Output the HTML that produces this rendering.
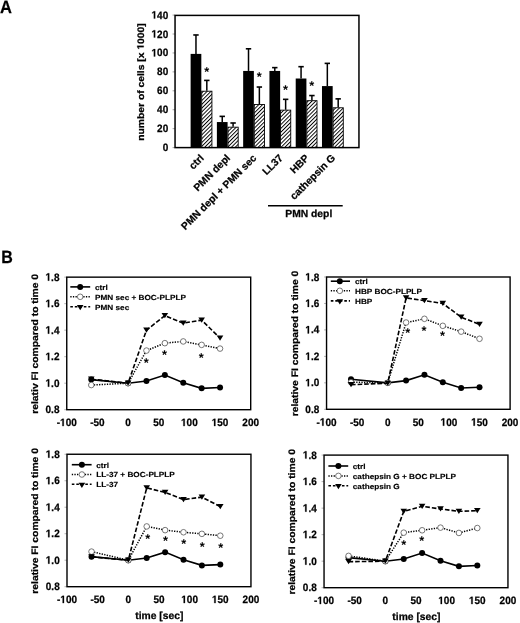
<!DOCTYPE html>
<html><head><meta charset="utf-8"><style>
html,body{margin:0;padding:0;background:#fff;}
body{width:520px;height:623px;overflow:hidden;}
svg{display:block;filter:grayscale(1);}
text{font-family:"Liberation Sans",sans-serif;font-weight:bold;fill:#000;text-rendering:geometricPrecision;stroke:#000;stroke-width:0.25px;}
.h{fill-opacity:0;stroke-opacity:0;}
</style></head><body>
<svg width="520" height="623" viewBox="0 0 520 623">
<defs>
<path id="g49" d="M478 0V1170L140 959V1180L493 1409H759V0Z"/>
<pattern id="hatch" patternUnits="userSpaceOnUse" width="2.7" height="2.7" patternTransform="rotate(45)">
<rect width="2.7" height="2.7" fill="#fff"/>
<rect x="0" y="0" width="0.95" height="2.7" fill="#000"/>
</pattern>
</defs>
<text x="0.00" y="0.00" font-size="17.8" text-anchor="start" transform="translate(0,13.0) scale(0.93,1)">A</text>
<text x="0.00" y="0.00" font-size="17.8" text-anchor="start" transform="translate(1.2,262.9) scale(0.9,1)">B</text>
<text x="0" y="0" font-size="10.7" text-anchor="end" transform="translate(168.20,151.10) scale(0.935,1)">0</text>
<line x1="172.55" y1="147.60" x2="175.05" y2="147.60" stroke="#999" stroke-width="0.9"/>
<text x="0" y="0" font-size="10.7" text-anchor="end" transform="translate(168.20,132.17) scale(0.935,1)">20</text>
<line x1="172.55" y1="128.67" x2="175.05" y2="128.67" stroke="#999" stroke-width="0.9"/>
<text x="0" y="0" font-size="10.7" text-anchor="end" transform="translate(168.20,113.24) scale(0.935,1)">40</text>
<line x1="172.55" y1="109.74" x2="175.05" y2="109.74" stroke="#999" stroke-width="0.9"/>
<text x="0" y="0" font-size="10.7" text-anchor="end" transform="translate(168.20,94.31) scale(0.935,1)">60</text>
<line x1="172.55" y1="90.81" x2="175.05" y2="90.81" stroke="#999" stroke-width="0.9"/>
<text x="0" y="0" font-size="10.7" text-anchor="end" transform="translate(168.20,75.39) scale(0.935,1)">80</text>
<line x1="172.55" y1="71.89" x2="175.05" y2="71.89" stroke="#999" stroke-width="0.9"/>
<text x="0" y="0" font-size="10.7" text-anchor="end" transform="translate(168.20,56.46) scale(0.935,1)"><tspan class="h">1</tspan>00</text>
<g transform="translate(168.20,56.46) scale(0.00489,-0.00522)" fill="#000" stroke="#000" stroke-linejoin="round" stroke-width="48"><use href="#g49" x="-3417"/></g>
<line x1="172.55" y1="52.96" x2="175.05" y2="52.96" stroke="#999" stroke-width="0.9"/>
<text x="0" y="0" font-size="10.7" text-anchor="end" transform="translate(168.20,37.53) scale(0.935,1)"><tspan class="h">1</tspan>20</text>
<g transform="translate(168.20,37.53) scale(0.00489,-0.00522)" fill="#000" stroke="#000" stroke-linejoin="round" stroke-width="48"><use href="#g49" x="-3417"/></g>
<line x1="172.55" y1="34.03" x2="175.05" y2="34.03" stroke="#999" stroke-width="0.9"/>
<text x="0" y="0" font-size="10.7" text-anchor="end" transform="translate(168.20,18.60) scale(0.935,1)"><tspan class="h">1</tspan>40</text>
<g transform="translate(168.20,18.60) scale(0.00489,-0.00522)" fill="#000" stroke="#000" stroke-linejoin="round" stroke-width="48"><use href="#g49" x="-3417"/></g>
<line x1="172.55" y1="15.10" x2="175.05" y2="15.10" stroke="#999" stroke-width="0.9"/>
<g transform="translate(143.7,82.0) rotate(-90) scale(1.1,1)"><text x="0" y="0" font-size="9.4" text-anchor="middle">number of cells [x <tspan class="h">1</tspan>000]</text><g transform="scale(0.00459,-0.00459)" fill="#000" stroke="#000" stroke-linejoin="round" stroke-width="54"><use href="#g49" x="6428"/></g></g>
<line x1="195.97" y1="53.90" x2="195.97" y2="34.97" stroke="#000" stroke-width="1.5"/>
<line x1="193.27" y1="34.97" x2="198.67" y2="34.97" stroke="#000" stroke-width="1.6"/>
<line x1="206.82" y1="90.81" x2="206.82" y2="80.40" stroke="#000" stroke-width="1.5"/>
<line x1="204.12" y1="80.40" x2="209.52" y2="80.40" stroke="#000" stroke-width="1.6"/>
<rect x="190.62" y="53.90" width="10.7" height="93.70" fill="#000"/>
<rect x="201.72" y="91.21" width="10.2" height="56.39" fill="url(#hatch)" stroke="#000" stroke-width="0.9"/>
<line x1="222.24" y1="122.05" x2="222.24" y2="116.37" stroke="#000" stroke-width="1.5"/>
<line x1="219.54" y1="116.37" x2="224.94" y2="116.37" stroke="#000" stroke-width="1.6"/>
<line x1="233.09" y1="126.78" x2="233.09" y2="122.99" stroke="#000" stroke-width="1.5"/>
<line x1="230.39" y1="122.99" x2="235.79" y2="122.99" stroke="#000" stroke-width="1.6"/>
<rect x="216.89" y="122.05" width="10.7" height="25.55" fill="#000"/>
<rect x="227.99" y="127.18" width="10.2" height="20.42" fill="url(#hatch)" stroke="#000" stroke-width="0.9"/>
<line x1="248.51" y1="70.94" x2="248.51" y2="48.79" stroke="#000" stroke-width="1.5"/>
<line x1="245.81" y1="48.79" x2="251.21" y2="48.79" stroke="#000" stroke-width="1.6"/>
<line x1="259.36" y1="104.06" x2="259.36" y2="87.03" stroke="#000" stroke-width="1.5"/>
<line x1="256.66" y1="87.03" x2="262.06" y2="87.03" stroke="#000" stroke-width="1.6"/>
<rect x="243.16" y="70.94" width="10.7" height="76.66" fill="#000"/>
<rect x="254.26" y="104.46" width="10.2" height="43.14" fill="url(#hatch)" stroke="#000" stroke-width="0.9"/>
<line x1="274.79" y1="70.94" x2="274.79" y2="67.63" stroke="#000" stroke-width="1.5"/>
<line x1="272.09" y1="67.63" x2="277.49" y2="67.63" stroke="#000" stroke-width="1.6"/>
<line x1="285.64" y1="109.74" x2="285.64" y2="99.33" stroke="#000" stroke-width="1.5"/>
<line x1="282.94" y1="99.33" x2="288.34" y2="99.33" stroke="#000" stroke-width="1.6"/>
<rect x="269.44" y="70.94" width="10.7" height="76.66" fill="#000"/>
<rect x="280.54" y="110.14" width="10.2" height="37.46" fill="url(#hatch)" stroke="#000" stroke-width="0.9"/>
<line x1="301.06" y1="78.51" x2="301.06" y2="66.68" stroke="#000" stroke-width="1.5"/>
<line x1="298.36" y1="66.68" x2="303.76" y2="66.68" stroke="#000" stroke-width="1.6"/>
<line x1="311.91" y1="100.28" x2="311.91" y2="95.55" stroke="#000" stroke-width="1.5"/>
<line x1="309.21" y1="95.55" x2="314.61" y2="95.55" stroke="#000" stroke-width="1.6"/>
<rect x="295.71" y="78.51" width="10.7" height="69.09" fill="#000"/>
<rect x="306.81" y="100.68" width="10.2" height="46.92" fill="url(#hatch)" stroke="#000" stroke-width="0.9"/>
<line x1="327.33" y1="86.08" x2="327.33" y2="63.37" stroke="#000" stroke-width="1.5"/>
<line x1="324.63" y1="63.37" x2="330.03" y2="63.37" stroke="#000" stroke-width="1.6"/>
<line x1="338.18" y1="107.38" x2="338.18" y2="98.86" stroke="#000" stroke-width="1.5"/>
<line x1="335.48" y1="98.86" x2="340.88" y2="98.86" stroke="#000" stroke-width="1.6"/>
<rect x="321.98" y="86.08" width="10.7" height="61.52" fill="#000"/>
<rect x="333.08" y="107.78" width="10.2" height="39.82" fill="url(#hatch)" stroke="#000" stroke-width="0.9"/>
<text x="206.70" y="75.83" font-size="12.8" text-anchor="middle" style="stroke:none">*</text>
<text x="259.20" y="81.23" font-size="12.8" text-anchor="middle" style="stroke:none">*</text>
<text x="285.60" y="93.93" font-size="12.8" text-anchor="middle" style="stroke:none">*</text>
<text x="311.80" y="90.13" font-size="12.8" text-anchor="middle" style="stroke:none">*</text>
<rect x="175.05" y="15.4" width="183.90" height="132.20" fill="none" stroke="#000" stroke-width="1.5"/>
<text x="0.00" y="0.00" font-size="10.3" text-anchor="end" transform="translate(204.62,158.6) rotate(-45)">ctrl</text>
<text x="0.00" y="0.00" font-size="10.3" text-anchor="end" transform="translate(230.89,158.6) rotate(-45)">PMN depl</text>
<text x="0.00" y="0.00" font-size="10.3" text-anchor="end" transform="translate(257.16,158.6) rotate(-45)">PMN depl + PMN sec</text>
<text x="0.00" y="0.00" font-size="10.3" text-anchor="end" transform="translate(283.44,158.6) rotate(-45)">LL37</text>
<text x="0.00" y="0.00" font-size="10.3" text-anchor="end" transform="translate(309.71,158.6) rotate(-45)">HBP</text>
<text x="0.00" y="0.00" font-size="10.3" text-anchor="end" transform="translate(335.98,158.6) rotate(-45)">cathepsin G</text>
<line x1="268" y1="205.8" x2="342.7" y2="205.8" stroke="#000" stroke-width="1.5"/>
<text x="308.80" y="216.60" font-size="10.3" text-anchor="middle" >PMN depl</text>
<text x="0" y="0" font-size="10.7" text-anchor="end" transform="translate(59.45,413.20) scale(0.935,1)">0.8</text>
<line x1="64.25" y1="409.70" x2="66.75" y2="409.70" stroke="#aaa" stroke-width="0.9"/>
<text x="0" y="0" font-size="10.7" text-anchor="end" transform="translate(59.45,386.69) scale(0.935,1)"><tspan class="h">1</tspan>.0</text>
<g transform="translate(59.45,386.69) scale(0.00489,-0.00522)" fill="#000" stroke="#000" stroke-linejoin="round" stroke-width="48"><use href="#g49" x="-2847"/></g>
<line x1="64.25" y1="383.19" x2="66.75" y2="383.19" stroke="#aaa" stroke-width="0.9"/>
<text x="0" y="0" font-size="10.7" text-anchor="end" transform="translate(59.45,360.18) scale(0.935,1)"><tspan class="h">1</tspan>.2</text>
<g transform="translate(59.45,360.18) scale(0.00489,-0.00522)" fill="#000" stroke="#000" stroke-linejoin="round" stroke-width="48"><use href="#g49" x="-2847"/></g>
<line x1="64.25" y1="356.68" x2="66.75" y2="356.68" stroke="#aaa" stroke-width="0.9"/>
<text x="0" y="0" font-size="10.7" text-anchor="end" transform="translate(59.45,333.67) scale(0.935,1)"><tspan class="h">1</tspan>.4</text>
<g transform="translate(59.45,333.67) scale(0.00489,-0.00522)" fill="#000" stroke="#000" stroke-linejoin="round" stroke-width="48"><use href="#g49" x="-2847"/></g>
<line x1="64.25" y1="330.17" x2="66.75" y2="330.17" stroke="#aaa" stroke-width="0.9"/>
<text x="0" y="0" font-size="10.7" text-anchor="end" transform="translate(59.45,307.16) scale(0.935,1)"><tspan class="h">1</tspan>.6</text>
<g transform="translate(59.45,307.16) scale(0.00489,-0.00522)" fill="#000" stroke="#000" stroke-linejoin="round" stroke-width="48"><use href="#g49" x="-2847"/></g>
<line x1="64.25" y1="303.66" x2="66.75" y2="303.66" stroke="#aaa" stroke-width="0.9"/>
<text x="0" y="0" font-size="10.7" text-anchor="end" transform="translate(59.45,280.65) scale(0.935,1)"><tspan class="h">1</tspan>.8</text>
<g transform="translate(59.45,280.65) scale(0.00489,-0.00522)" fill="#000" stroke="#000" stroke-linejoin="round" stroke-width="48"><use href="#g49" x="-2847"/></g>
<line x1="64.25" y1="277.15" x2="66.75" y2="277.15" stroke="#aaa" stroke-width="0.9"/>
<text x="0" y="0" font-size="10.7" text-anchor="middle" transform="translate(66.75,426.10) scale(0.935,1)">-<tspan class="h">1</tspan>00</text>
<g transform="translate(66.75,426.10) scale(0.00489,-0.00522)" fill="#000" stroke="#000" stroke-linejoin="round" stroke-width="48"><use href="#g49" x="-1368"/></g>
<text x="0" y="0" font-size="10.7" text-anchor="middle" transform="translate(97.41,426.10) scale(0.935,1)">-50</text>
<text x="0" y="0" font-size="10.7" text-anchor="middle" transform="translate(128.07,426.10) scale(0.935,1)">0</text>
<text x="0" y="0" font-size="10.7" text-anchor="middle" transform="translate(158.72,426.10) scale(0.935,1)">50</text>
<text x="0" y="0" font-size="10.7" text-anchor="middle" transform="translate(189.38,426.10) scale(0.935,1)"><tspan class="h">1</tspan>00</text>
<g transform="translate(189.38,426.10) scale(0.00489,-0.00522)" fill="#000" stroke="#000" stroke-linejoin="round" stroke-width="48"><use href="#g49" x="-1708"/></g>
<text x="0" y="0" font-size="10.7" text-anchor="middle" transform="translate(220.04,426.10) scale(0.935,1)"><tspan class="h">1</tspan>50</text>
<g transform="translate(220.04,426.10) scale(0.00489,-0.00522)" fill="#000" stroke="#000" stroke-linejoin="round" stroke-width="48"><use href="#g49" x="-1708"/></g>
<text x="0" y="0" font-size="10.7" text-anchor="middle" transform="translate(250.70,426.10) scale(0.935,1)">200</text>
<text x="0.00" y="0.00" font-size="9.4" text-anchor="middle" transform="translate(37.85,343.82) rotate(-90) scale(1.1,1)">relativ FI compared to time 0</text>
<polyline points="91.28,379.61 128.07,383.19 146.46,380.94 164.86,375.10 183.25,382.66 201.65,388.36 220.04,387.56" fill="none" stroke="#000" stroke-width="1.6"/>
<circle cx="91.28" cy="379.61" r="3.0" fill="#000"/>
<circle cx="128.07" cy="383.19" r="3.0" fill="#000"/>
<circle cx="146.46" cy="380.94" r="3.0" fill="#000"/>
<circle cx="164.86" cy="375.10" r="3.0" fill="#000"/>
<circle cx="183.25" cy="382.66" r="3.0" fill="#000"/>
<circle cx="201.65" cy="388.36" r="3.0" fill="#000"/>
<circle cx="220.04" cy="387.56" r="3.0" fill="#000"/>
<polyline points="91.28,385.05 128.07,383.19 146.46,350.58 164.86,343.16 183.25,341.44 201.65,344.88 220.04,348.59" fill="none" stroke="#000" stroke-width="1.5" stroke-dasharray="1.3,1.3"/>
<circle cx="91.28" cy="385.05" r="2.8" fill="#fff" stroke="#555" stroke-width="0.8"/>
<circle cx="128.07" cy="383.19" r="2.8" fill="#fff" stroke="#555" stroke-width="0.8"/>
<circle cx="146.46" cy="350.58" r="2.8" fill="#fff" stroke="#555" stroke-width="0.8"/>
<circle cx="164.86" cy="343.16" r="2.8" fill="#fff" stroke="#555" stroke-width="0.8"/>
<circle cx="183.25" cy="341.44" r="2.8" fill="#fff" stroke="#555" stroke-width="0.8"/>
<circle cx="201.65" cy="344.88" r="2.8" fill="#fff" stroke="#555" stroke-width="0.8"/>
<circle cx="220.04" cy="348.59" r="2.8" fill="#fff" stroke="#555" stroke-width="0.8"/>
<polyline points="91.28,379.21 128.07,383.19 146.46,330.17 164.86,315.59 183.25,323.14 201.65,320.10 220.04,338.12" fill="none" stroke="#000" stroke-width="1.6" stroke-dasharray="4.6,2"/>
<path d="M87.98,376.61 L94.58,376.61 L91.28,381.81 Z" fill="#000"/>
<path d="M124.77,380.59 L131.37,380.59 L128.07,385.79 Z" fill="#000"/>
<path d="M143.16,327.57 L149.76,327.57 L146.46,332.77 Z" fill="#000"/>
<path d="M161.56,312.99 L168.16,312.99 L164.86,318.19 Z" fill="#000"/>
<path d="M179.95,320.54 L186.55,320.54 L183.25,325.74 Z" fill="#000"/>
<path d="M198.35,317.50 L204.95,317.50 L201.65,322.70 Z" fill="#000"/>
<path d="M216.74,335.52 L223.34,335.52 L220.04,340.72 Z" fill="#000"/>
<text x="146.25" y="366.53" font-size="12.8" text-anchor="middle" style="stroke:none">*</text>
<text x="164.50" y="358.53" font-size="12.8" text-anchor="middle" style="stroke:none">*</text>
<text x="201.25" y="361.53" font-size="12.8" text-anchor="middle" style="stroke:none">*</text>
<line x1="70.3" y1="286.9" x2="90.2" y2="286.9" stroke="#000" stroke-width="1.6"/>
<circle cx="80.20" cy="286.90" r="3.0" fill="#000"/>
<text x="0.00" y="0.00" font-size="7.4" text-anchor="start" transform="translate(95.0,289.70) scale(1.11,1)" style="stroke-width:0.15px">ctrl</text>
<line x1="70.3" y1="296.8" x2="90.2" y2="296.8" stroke="#000" stroke-width="1.5" stroke-dasharray="1.3,1.3"/>
<circle cx="80.20" cy="296.80" r="2.8" fill="#fff" stroke="#555" stroke-width="0.8"/>
<text x="0.00" y="0.00" font-size="7.4" text-anchor="start" transform="translate(95.0,299.60) scale(1.11,1)" style="stroke-width:0.15px">PMN sec + BOC-PLPLP</text>
<line x1="70.3" y1="306.7" x2="90.2" y2="306.7" stroke="#000" stroke-width="1.6" stroke-dasharray="2.6,1.9"/>
<path d="M76.90,305.10 L83.50,305.10 L80.20,310.30 Z" fill="#000"/>
<text x="0.00" y="0.00" font-size="7.4" text-anchor="start" transform="translate(95.0,309.50) scale(1.11,1)" style="stroke-width:0.15px">PMN sec</text>
<rect x="66.75" y="277.15" width="183.95" height="132.55" fill="none" stroke="#000" stroke-width="1.4"/>
<text x="0" y="0" font-size="10.7" text-anchor="end" transform="translate(319.25,412.80) scale(0.935,1)">0.8</text>
<line x1="324.05" y1="409.30" x2="326.55" y2="409.30" stroke="#aaa" stroke-width="0.9"/>
<text x="0" y="0" font-size="10.7" text-anchor="end" transform="translate(319.25,386.34) scale(0.935,1)"><tspan class="h">1</tspan>.0</text>
<g transform="translate(319.25,386.34) scale(0.00489,-0.00522)" fill="#000" stroke="#000" stroke-linejoin="round" stroke-width="48"><use href="#g49" x="-2847"/></g>
<line x1="324.05" y1="382.84" x2="326.55" y2="382.84" stroke="#aaa" stroke-width="0.9"/>
<text x="0" y="0" font-size="10.7" text-anchor="end" transform="translate(319.25,359.88) scale(0.935,1)"><tspan class="h">1</tspan>.2</text>
<g transform="translate(319.25,359.88) scale(0.00489,-0.00522)" fill="#000" stroke="#000" stroke-linejoin="round" stroke-width="48"><use href="#g49" x="-2847"/></g>
<line x1="324.05" y1="356.38" x2="326.55" y2="356.38" stroke="#aaa" stroke-width="0.9"/>
<text x="0" y="0" font-size="10.7" text-anchor="end" transform="translate(319.25,333.42) scale(0.935,1)"><tspan class="h">1</tspan>.4</text>
<g transform="translate(319.25,333.42) scale(0.00489,-0.00522)" fill="#000" stroke="#000" stroke-linejoin="round" stroke-width="48"><use href="#g49" x="-2847"/></g>
<line x1="324.05" y1="329.92" x2="326.55" y2="329.92" stroke="#aaa" stroke-width="0.9"/>
<text x="0" y="0" font-size="10.7" text-anchor="end" transform="translate(319.25,306.96) scale(0.935,1)"><tspan class="h">1</tspan>.6</text>
<g transform="translate(319.25,306.96) scale(0.00489,-0.00522)" fill="#000" stroke="#000" stroke-linejoin="round" stroke-width="48"><use href="#g49" x="-2847"/></g>
<line x1="324.05" y1="303.46" x2="326.55" y2="303.46" stroke="#aaa" stroke-width="0.9"/>
<text x="0" y="0" font-size="10.7" text-anchor="end" transform="translate(319.25,280.50) scale(0.935,1)"><tspan class="h">1</tspan>.8</text>
<g transform="translate(319.25,280.50) scale(0.00489,-0.00522)" fill="#000" stroke="#000" stroke-linejoin="round" stroke-width="48"><use href="#g49" x="-2847"/></g>
<line x1="324.05" y1="277.00" x2="326.55" y2="277.00" stroke="#aaa" stroke-width="0.9"/>
<text x="0" y="0" font-size="10.7" text-anchor="middle" transform="translate(326.55,425.70) scale(0.935,1)">-<tspan class="h">1</tspan>00</text>
<g transform="translate(326.55,425.70) scale(0.00489,-0.00522)" fill="#000" stroke="#000" stroke-linejoin="round" stroke-width="48"><use href="#g49" x="-1368"/></g>
<text x="0" y="0" font-size="10.7" text-anchor="middle" transform="translate(357.14,425.70) scale(0.935,1)">-50</text>
<text x="0" y="0" font-size="10.7" text-anchor="middle" transform="translate(387.73,425.70) scale(0.935,1)">0</text>
<text x="0" y="0" font-size="10.7" text-anchor="middle" transform="translate(418.33,425.70) scale(0.935,1)">50</text>
<text x="0" y="0" font-size="10.7" text-anchor="middle" transform="translate(448.92,425.70) scale(0.935,1)"><tspan class="h">1</tspan>00</text>
<g transform="translate(448.92,425.70) scale(0.00489,-0.00522)" fill="#000" stroke="#000" stroke-linejoin="round" stroke-width="48"><use href="#g49" x="-1708"/></g>
<text x="0" y="0" font-size="10.7" text-anchor="middle" transform="translate(479.51,425.70) scale(0.935,1)"><tspan class="h">1</tspan>50</text>
<g transform="translate(479.51,425.70) scale(0.00489,-0.00522)" fill="#000" stroke="#000" stroke-linejoin="round" stroke-width="48"><use href="#g49" x="-1708"/></g>
<text x="0" y="0" font-size="10.7" text-anchor="middle" transform="translate(510.10,425.70) scale(0.935,1)">200</text>
<text x="0.00" y="0.00" font-size="9.4" text-anchor="middle" transform="translate(297.65,343.55) rotate(-90) scale(1.1,1)">relative FI compared to time 0</text>
<polyline points="351.02,379.27 387.73,382.84 406.09,380.59 424.44,374.77 442.80,382.31 461.15,388.00 479.51,387.21" fill="none" stroke="#000" stroke-width="1.6"/>
<circle cx="351.02" cy="379.27" r="3.0" fill="#000"/>
<circle cx="387.73" cy="382.84" r="3.0" fill="#000"/>
<circle cx="406.09" cy="380.59" r="3.0" fill="#000"/>
<circle cx="424.44" cy="374.77" r="3.0" fill="#000"/>
<circle cx="442.80" cy="382.31" r="3.0" fill="#000"/>
<circle cx="461.15" cy="388.00" r="3.0" fill="#000"/>
<circle cx="479.51" cy="387.21" r="3.0" fill="#000"/>
<polyline points="351.02,382.18 387.73,382.84 406.09,322.51 424.44,318.81 442.80,325.82 461.15,331.64 479.51,338.78" fill="none" stroke="#000" stroke-width="1.5" stroke-dasharray="1.3,1.3"/>
<circle cx="351.02" cy="382.18" r="2.8" fill="#fff" stroke="#555" stroke-width="0.8"/>
<circle cx="387.73" cy="382.84" r="2.8" fill="#fff" stroke="#555" stroke-width="0.8"/>
<circle cx="406.09" cy="322.51" r="2.8" fill="#fff" stroke="#555" stroke-width="0.8"/>
<circle cx="424.44" cy="318.81" r="2.8" fill="#fff" stroke="#555" stroke-width="0.8"/>
<circle cx="442.80" cy="325.82" r="2.8" fill="#fff" stroke="#555" stroke-width="0.8"/>
<circle cx="461.15" cy="331.64" r="2.8" fill="#fff" stroke="#555" stroke-width="0.8"/>
<circle cx="479.51" cy="338.78" r="2.8" fill="#fff" stroke="#555" stroke-width="0.8"/>
<polyline points="351.02,384.69 387.73,383.24 406.09,297.90 424.44,300.68 442.80,303.46 461.15,317.22 479.51,324.36" fill="none" stroke="#000" stroke-width="1.6" stroke-dasharray="4.6,2"/>
<path d="M347.72,382.09 L354.32,382.09 L351.02,387.29 Z" fill="#000"/>
<path d="M384.43,380.64 L391.03,380.64 L387.73,385.84 Z" fill="#000"/>
<path d="M402.79,295.30 L409.39,295.30 L406.09,300.50 Z" fill="#000"/>
<path d="M421.14,298.08 L427.74,298.08 L424.44,303.28 Z" fill="#000"/>
<path d="M439.50,300.86 L446.10,300.86 L442.80,306.06 Z" fill="#000"/>
<path d="M457.85,314.62 L464.45,314.62 L461.15,319.82 Z" fill="#000"/>
<path d="M476.21,321.76 L482.81,321.76 L479.51,326.96 Z" fill="#000"/>
<text x="407.70" y="337.33" font-size="12.8" text-anchor="middle" style="stroke:none">*</text>
<text x="424.00" y="334.83" font-size="12.8" text-anchor="middle" style="stroke:none">*</text>
<text x="442.50" y="340.33" font-size="12.8" text-anchor="middle" style="stroke:none">*</text>
<line x1="330.8" y1="281.2" x2="350.0" y2="281.2" stroke="#000" stroke-width="1.6"/>
<circle cx="339.80" cy="281.20" r="3.0" fill="#000"/>
<text x="0.00" y="0.00" font-size="7.4" text-anchor="start" transform="translate(355.0,284.00) scale(1.11,1)" style="stroke-width:0.15px">ctrl</text>
<line x1="330.8" y1="290.8" x2="350.0" y2="290.8" stroke="#000" stroke-width="1.5" stroke-dasharray="1.3,1.3"/>
<circle cx="339.80" cy="290.80" r="2.8" fill="#fff" stroke="#555" stroke-width="0.8"/>
<text x="0.00" y="0.00" font-size="7.4" text-anchor="start" transform="translate(355.0,293.60) scale(1.11,1)" style="stroke-width:0.15px">HBP BOC-PLPLP</text>
<line x1="330.8" y1="300.9" x2="350.0" y2="300.9" stroke="#000" stroke-width="1.6" stroke-dasharray="2.6,1.9"/>
<path d="M336.50,299.30 L343.10,299.30 L339.80,304.50 Z" fill="#000"/>
<text x="0.00" y="0.00" font-size="7.4" text-anchor="start" transform="translate(355.0,303.70) scale(1.11,1)" style="stroke-width:0.15px">HBP</text>
<rect x="326.55" y="277.0" width="183.55" height="132.30" fill="none" stroke="#000" stroke-width="1.4"/>
<text x="0" y="0" font-size="10.7" text-anchor="end" transform="translate(59.70,590.20) scale(0.935,1)">0.8</text>
<line x1="64.50" y1="586.70" x2="67.00" y2="586.70" stroke="#aaa" stroke-width="0.9"/>
<text x="0" y="0" font-size="10.7" text-anchor="end" transform="translate(59.70,563.71) scale(0.935,1)"><tspan class="h">1</tspan>.0</text>
<g transform="translate(59.70,563.71) scale(0.00489,-0.00522)" fill="#000" stroke="#000" stroke-linejoin="round" stroke-width="48"><use href="#g49" x="-2847"/></g>
<line x1="64.50" y1="560.21" x2="67.00" y2="560.21" stroke="#aaa" stroke-width="0.9"/>
<text x="0" y="0" font-size="10.7" text-anchor="end" transform="translate(59.70,537.22) scale(0.935,1)"><tspan class="h">1</tspan>.2</text>
<g transform="translate(59.70,537.22) scale(0.00489,-0.00522)" fill="#000" stroke="#000" stroke-linejoin="round" stroke-width="48"><use href="#g49" x="-2847"/></g>
<line x1="64.50" y1="533.72" x2="67.00" y2="533.72" stroke="#aaa" stroke-width="0.9"/>
<text x="0" y="0" font-size="10.7" text-anchor="end" transform="translate(59.70,510.73) scale(0.935,1)"><tspan class="h">1</tspan>.4</text>
<g transform="translate(59.70,510.73) scale(0.00489,-0.00522)" fill="#000" stroke="#000" stroke-linejoin="round" stroke-width="48"><use href="#g49" x="-2847"/></g>
<line x1="64.50" y1="507.23" x2="67.00" y2="507.23" stroke="#aaa" stroke-width="0.9"/>
<text x="0" y="0" font-size="10.7" text-anchor="end" transform="translate(59.70,484.24) scale(0.935,1)"><tspan class="h">1</tspan>.6</text>
<g transform="translate(59.70,484.24) scale(0.00489,-0.00522)" fill="#000" stroke="#000" stroke-linejoin="round" stroke-width="48"><use href="#g49" x="-2847"/></g>
<line x1="64.50" y1="480.74" x2="67.00" y2="480.74" stroke="#aaa" stroke-width="0.9"/>
<text x="0" y="0" font-size="10.7" text-anchor="end" transform="translate(59.70,457.75) scale(0.935,1)"><tspan class="h">1</tspan>.8</text>
<g transform="translate(59.70,457.75) scale(0.00489,-0.00522)" fill="#000" stroke="#000" stroke-linejoin="round" stroke-width="48"><use href="#g49" x="-2847"/></g>
<line x1="64.50" y1="454.25" x2="67.00" y2="454.25" stroke="#aaa" stroke-width="0.9"/>
<text x="0" y="0" font-size="10.7" text-anchor="middle" transform="translate(67.00,603.10) scale(0.935,1)">-<tspan class="h">1</tspan>00</text>
<g transform="translate(67.00,603.10) scale(0.00489,-0.00522)" fill="#000" stroke="#000" stroke-linejoin="round" stroke-width="48"><use href="#g49" x="-1368"/></g>
<text x="0" y="0" font-size="10.7" text-anchor="middle" transform="translate(97.66,603.10) scale(0.935,1)">-50</text>
<text x="0" y="0" font-size="10.7" text-anchor="middle" transform="translate(128.32,603.10) scale(0.935,1)">0</text>
<text x="0" y="0" font-size="10.7" text-anchor="middle" transform="translate(158.97,603.10) scale(0.935,1)">50</text>
<text x="0" y="0" font-size="10.7" text-anchor="middle" transform="translate(189.63,603.10) scale(0.935,1)"><tspan class="h">1</tspan>00</text>
<g transform="translate(189.63,603.10) scale(0.00489,-0.00522)" fill="#000" stroke="#000" stroke-linejoin="round" stroke-width="48"><use href="#g49" x="-1708"/></g>
<text x="0" y="0" font-size="10.7" text-anchor="middle" transform="translate(220.29,603.10) scale(0.935,1)"><tspan class="h">1</tspan>50</text>
<g transform="translate(220.29,603.10) scale(0.00489,-0.00522)" fill="#000" stroke="#000" stroke-linejoin="round" stroke-width="48"><use href="#g49" x="-1708"/></g>
<text x="0" y="0" font-size="10.7" text-anchor="middle" transform="translate(250.95,603.10) scale(0.935,1)">200</text>
<text x="0.00" y="0.00" font-size="9.4" text-anchor="middle" transform="translate(38.10,520.88) rotate(-90) scale(1.1,1)">relative FI compared to time 0</text>
<text x="159.38" y="619.30" font-size="10.3" text-anchor="middle" >time [sec]</text>
<polyline points="91.53,556.63 128.32,560.21 146.71,557.96 165.11,552.13 183.50,559.68 201.90,565.38 220.29,564.58" fill="none" stroke="#000" stroke-width="1.6"/>
<circle cx="91.53" cy="556.63" r="3.0" fill="#000"/>
<circle cx="128.32" cy="560.21" r="3.0" fill="#000"/>
<circle cx="146.71" cy="557.96" r="3.0" fill="#000"/>
<circle cx="165.11" cy="552.13" r="3.0" fill="#000"/>
<circle cx="183.50" cy="559.68" r="3.0" fill="#000"/>
<circle cx="201.90" cy="565.38" r="3.0" fill="#000"/>
<circle cx="220.29" cy="564.58" r="3.0" fill="#000"/>
<polyline points="91.53,551.60 128.32,560.21 146.71,526.44 165.11,530.14 183.50,532.26 201.90,533.85 220.29,535.71" fill="none" stroke="#000" stroke-width="1.5" stroke-dasharray="1.3,1.3"/>
<circle cx="91.53" cy="551.60" r="2.8" fill="#fff" stroke="#555" stroke-width="0.8"/>
<circle cx="128.32" cy="560.21" r="2.8" fill="#fff" stroke="#555" stroke-width="0.8"/>
<circle cx="146.71" cy="526.44" r="2.8" fill="#fff" stroke="#555" stroke-width="0.8"/>
<circle cx="165.11" cy="530.14" r="2.8" fill="#fff" stroke="#555" stroke-width="0.8"/>
<circle cx="183.50" cy="532.26" r="2.8" fill="#fff" stroke="#555" stroke-width="0.8"/>
<circle cx="201.90" cy="533.85" r="2.8" fill="#fff" stroke="#555" stroke-width="0.8"/>
<circle cx="220.29" cy="535.71" r="2.8" fill="#fff" stroke="#555" stroke-width="0.8"/>
<polyline points="91.53,556.90 128.32,560.21 146.71,487.89 165.11,492.40 183.50,499.55 201.90,497.16 220.29,506.57" fill="none" stroke="#000" stroke-width="1.6" stroke-dasharray="4.6,2"/>
<path d="M88.23,554.30 L94.83,554.30 L91.53,559.50 Z" fill="#000"/>
<path d="M125.02,557.61 L131.62,557.61 L128.32,562.81 Z" fill="#000"/>
<path d="M143.41,485.29 L150.01,485.29 L146.71,490.49 Z" fill="#000"/>
<path d="M161.81,489.80 L168.41,489.80 L165.11,495.00 Z" fill="#000"/>
<path d="M180.20,496.95 L186.80,496.95 L183.50,502.15 Z" fill="#000"/>
<path d="M198.60,494.56 L205.20,494.56 L201.90,499.76 Z" fill="#000"/>
<path d="M216.99,503.97 L223.59,503.97 L220.29,509.17 Z" fill="#000"/>
<text x="147.80" y="543.03" font-size="12.8" text-anchor="middle" style="stroke:none">*</text>
<text x="165.40" y="545.23" font-size="12.8" text-anchor="middle" style="stroke:none">*</text>
<text x="183.80" y="548.33" font-size="12.8" text-anchor="middle" style="stroke:none">*</text>
<text x="202.30" y="550.73" font-size="12.8" text-anchor="middle" style="stroke:none">*</text>
<text x="220.80" y="551.73" font-size="12.8" text-anchor="middle" style="stroke:none">*</text>
<line x1="71.8" y1="464.7" x2="91.6" y2="464.7" stroke="#000" stroke-width="1.6"/>
<circle cx="81.90" cy="464.70" r="3.0" fill="#000"/>
<text x="0.00" y="0.00" font-size="7.4" text-anchor="start" transform="translate(96.2,467.50) scale(1.11,1)" style="stroke-width:0.15px">ctrl</text>
<line x1="71.8" y1="474.5" x2="91.6" y2="474.5" stroke="#000" stroke-width="1.5" stroke-dasharray="1.3,1.3"/>
<circle cx="81.90" cy="474.50" r="2.8" fill="#fff" stroke="#555" stroke-width="0.8"/>
<text x="0.00" y="0.00" font-size="7.4" text-anchor="start" transform="translate(96.2,477.30) scale(1.11,1)" style="stroke-width:0.15px">LL-37 + BOC-PLPLP</text>
<line x1="71.8" y1="484.3" x2="91.6" y2="484.3" stroke="#000" stroke-width="1.6" stroke-dasharray="2.6,1.9"/>
<path d="M78.60,482.70 L85.20,482.70 L81.90,487.90 Z" fill="#000"/>
<text x="0.00" y="0.00" font-size="7.4" text-anchor="start" transform="translate(96.2,487.10) scale(1.11,1)" style="stroke-width:0.15px">LL-37</text>
<rect x="67.0" y="454.25" width="183.95" height="132.45" fill="none" stroke="#000" stroke-width="1.4"/>
<text x="0" y="0" font-size="10.7" text-anchor="end" transform="translate(316.75,591.20) scale(0.935,1)">0.8</text>
<line x1="321.55" y1="587.70" x2="324.05" y2="587.70" stroke="#aaa" stroke-width="0.9"/>
<text x="0" y="0" font-size="10.7" text-anchor="end" transform="translate(316.75,564.68) scale(0.935,1)"><tspan class="h">1</tspan>.0</text>
<g transform="translate(316.75,564.68) scale(0.00489,-0.00522)" fill="#000" stroke="#000" stroke-linejoin="round" stroke-width="48"><use href="#g49" x="-2847"/></g>
<line x1="321.55" y1="561.18" x2="324.05" y2="561.18" stroke="#aaa" stroke-width="0.9"/>
<text x="0" y="0" font-size="10.7" text-anchor="end" transform="translate(316.75,538.16) scale(0.935,1)"><tspan class="h">1</tspan>.2</text>
<g transform="translate(316.75,538.16) scale(0.00489,-0.00522)" fill="#000" stroke="#000" stroke-linejoin="round" stroke-width="48"><use href="#g49" x="-2847"/></g>
<line x1="321.55" y1="534.66" x2="324.05" y2="534.66" stroke="#aaa" stroke-width="0.9"/>
<text x="0" y="0" font-size="10.7" text-anchor="end" transform="translate(316.75,511.64) scale(0.935,1)"><tspan class="h">1</tspan>.4</text>
<g transform="translate(316.75,511.64) scale(0.00489,-0.00522)" fill="#000" stroke="#000" stroke-linejoin="round" stroke-width="48"><use href="#g49" x="-2847"/></g>
<line x1="321.55" y1="508.14" x2="324.05" y2="508.14" stroke="#aaa" stroke-width="0.9"/>
<text x="0" y="0" font-size="10.7" text-anchor="end" transform="translate(316.75,485.12) scale(0.935,1)"><tspan class="h">1</tspan>.6</text>
<g transform="translate(316.75,485.12) scale(0.00489,-0.00522)" fill="#000" stroke="#000" stroke-linejoin="round" stroke-width="48"><use href="#g49" x="-2847"/></g>
<line x1="321.55" y1="481.62" x2="324.05" y2="481.62" stroke="#aaa" stroke-width="0.9"/>
<text x="0" y="0" font-size="10.7" text-anchor="end" transform="translate(316.75,458.60) scale(0.935,1)"><tspan class="h">1</tspan>.8</text>
<g transform="translate(316.75,458.60) scale(0.00489,-0.00522)" fill="#000" stroke="#000" stroke-linejoin="round" stroke-width="48"><use href="#g49" x="-2847"/></g>
<line x1="321.55" y1="455.10" x2="324.05" y2="455.10" stroke="#aaa" stroke-width="0.9"/>
<text x="0" y="0" font-size="10.7" text-anchor="middle" transform="translate(324.05,604.10) scale(0.935,1)">-<tspan class="h">1</tspan>00</text>
<g transform="translate(324.05,604.10) scale(0.00489,-0.00522)" fill="#000" stroke="#000" stroke-linejoin="round" stroke-width="48"><use href="#g49" x="-1368"/></g>
<text x="0" y="0" font-size="10.7" text-anchor="middle" transform="translate(354.70,604.10) scale(0.935,1)">-50</text>
<text x="0" y="0" font-size="10.7" text-anchor="middle" transform="translate(385.35,604.10) scale(0.935,1)">0</text>
<text x="0" y="0" font-size="10.7" text-anchor="middle" transform="translate(416.00,604.10) scale(0.935,1)">50</text>
<text x="0" y="0" font-size="10.7" text-anchor="middle" transform="translate(446.65,604.10) scale(0.935,1)"><tspan class="h">1</tspan>00</text>
<g transform="translate(446.65,604.10) scale(0.00489,-0.00522)" fill="#000" stroke="#000" stroke-linejoin="round" stroke-width="48"><use href="#g49" x="-1708"/></g>
<text x="0" y="0" font-size="10.7" text-anchor="middle" transform="translate(477.30,604.10) scale(0.935,1)"><tspan class="h">1</tspan>50</text>
<g transform="translate(477.30,604.10) scale(0.00489,-0.00522)" fill="#000" stroke="#000" stroke-linejoin="round" stroke-width="48"><use href="#g49" x="-1708"/></g>
<text x="0" y="0" font-size="10.7" text-anchor="middle" transform="translate(507.95,604.10) scale(0.935,1)">200</text>
<text x="0.00" y="0.00" font-size="9.4" text-anchor="middle" transform="translate(295.15,521.80) rotate(-90) scale(1.1,1)">relative FI compared to time 0</text>
<text x="416.40" y="620.30" font-size="10.3" text-anchor="middle" >time [sec]</text>
<polyline points="348.57,557.60 385.35,561.18 403.74,558.93 422.13,553.09 440.52,560.65 458.91,566.35 477.30,565.56" fill="none" stroke="#000" stroke-width="1.6"/>
<circle cx="348.57" cy="557.60" r="3.0" fill="#000"/>
<circle cx="385.35" cy="561.18" r="3.0" fill="#000"/>
<circle cx="403.74" cy="558.93" r="3.0" fill="#000"/>
<circle cx="422.13" cy="553.09" r="3.0" fill="#000"/>
<circle cx="440.52" cy="560.65" r="3.0" fill="#000"/>
<circle cx="458.91" cy="566.35" r="3.0" fill="#000"/>
<circle cx="477.30" cy="565.56" r="3.0" fill="#000"/>
<polyline points="348.57,555.88 385.35,561.18 403.74,532.67 422.13,530.28 440.52,527.63 458.91,532.94 477.30,528.03" fill="none" stroke="#000" stroke-width="1.5" stroke-dasharray="1.3,1.3"/>
<circle cx="348.57" cy="555.88" r="2.8" fill="#fff" stroke="#555" stroke-width="0.8"/>
<circle cx="385.35" cy="561.18" r="2.8" fill="#fff" stroke="#555" stroke-width="0.8"/>
<circle cx="403.74" cy="532.67" r="2.8" fill="#fff" stroke="#555" stroke-width="0.8"/>
<circle cx="422.13" cy="530.28" r="2.8" fill="#fff" stroke="#555" stroke-width="0.8"/>
<circle cx="440.52" cy="527.63" r="2.8" fill="#fff" stroke="#555" stroke-width="0.8"/>
<circle cx="458.91" cy="532.94" r="2.8" fill="#fff" stroke="#555" stroke-width="0.8"/>
<circle cx="477.30" cy="528.03" r="2.8" fill="#fff" stroke="#555" stroke-width="0.8"/>
<polyline points="348.57,561.71 385.35,561.18 403.74,511.32 422.13,506.28 440.52,508.94 458.91,511.32 477.30,510.66" fill="none" stroke="#000" stroke-width="1.6" stroke-dasharray="4.6,2"/>
<path d="M345.27,559.11 L351.87,559.11 L348.57,564.31 Z" fill="#000"/>
<path d="M382.05,558.58 L388.65,558.58 L385.35,563.78 Z" fill="#000"/>
<path d="M400.44,508.72 L407.04,508.72 L403.74,513.92 Z" fill="#000"/>
<path d="M418.83,503.68 L425.43,503.68 L422.13,508.88 Z" fill="#000"/>
<path d="M437.22,506.34 L443.82,506.34 L440.52,511.54 Z" fill="#000"/>
<path d="M455.61,508.72 L462.21,508.72 L458.91,513.92 Z" fill="#000"/>
<path d="M474.00,508.06 L480.60,508.06 L477.30,513.26 Z" fill="#000"/>
<text x="403.80" y="548.63" font-size="12.8" text-anchor="middle" style="stroke:none">*</text>
<text x="421.70" y="545.23" font-size="12.8" text-anchor="middle" style="stroke:none">*</text>
<line x1="328.4" y1="466.0" x2="348.2" y2="466.0" stroke="#000" stroke-width="1.6"/>
<circle cx="338.40" cy="466.00" r="3.0" fill="#000"/>
<text x="0.00" y="0.00" font-size="7.4" text-anchor="start" transform="translate(352.8,468.80) scale(1.11,1)" style="stroke-width:0.15px">ctrl</text>
<line x1="328.4" y1="475.9" x2="348.2" y2="475.9" stroke="#000" stroke-width="1.5" stroke-dasharray="1.3,1.3"/>
<circle cx="338.40" cy="475.90" r="2.8" fill="#fff" stroke="#555" stroke-width="0.8"/>
<text x="0.00" y="0.00" font-size="7.4" text-anchor="start" transform="translate(352.8,478.70) scale(1.11,1)" style="stroke-width:0.15px">cathepsin G + BOC PLPLP</text>
<line x1="328.4" y1="485.7" x2="348.2" y2="485.7" stroke="#000" stroke-width="1.6" stroke-dasharray="2.6,1.9"/>
<path d="M335.10,484.10 L341.70,484.10 L338.40,489.30 Z" fill="#000"/>
<text x="0.00" y="0.00" font-size="7.4" text-anchor="start" transform="translate(352.8,488.50) scale(1.11,1)" style="stroke-width:0.15px">cathepsin G</text>
<rect x="324.05" y="455.1" width="183.90" height="132.60" fill="none" stroke="#000" stroke-width="1.4"/>
</svg>
</body></html>
